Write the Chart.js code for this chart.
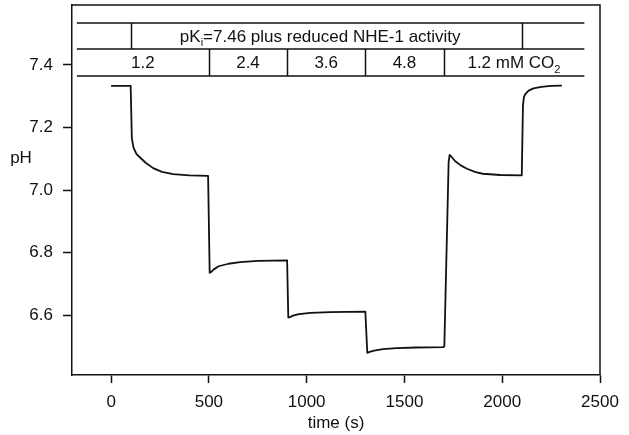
<!DOCTYPE html>
<html>
<head>
<meta charset="utf-8">
<script src="https://cdn.jsdelivr.net/npm/chart.js"></script>
<style>
  html, body { margin: 0; padding: 0; background: #fff; }
  canvas { display: block; }
</style>
</head>
<body>
<canvas id="chart-ph" width="629" height="435"></canvas>
<script>
// pH trace (time in s)
var time = [0, 100, 106, 115, 130, 148, 175, 215, 260, 317, 400, 496,
    500, 504, 512, 525, 550, 600, 660, 750, 900,
    906, 914, 930, 960, 1020, 1120, 1300,
    1310, 1322, 1345, 1390, 1460, 1560, 1698,
    1704, 1726, 1731, 1738, 1760, 1790, 1820, 1860, 1900, 1990, 2100,
    2106, 2111, 2118, 2135, 2160, 2200, 2250, 2305];
var ph = [7.333, 7.333, 7.165, 7.135, 7.115, 7.104, 7.088, 7.07, 7.058, 7.051, 7.047, 7.045,
    7.045, 6.735, 6.738, 6.746, 6.756, 6.764, 6.769, 6.773, 6.775,
    6.592, 6.593, 6.598, 6.603, 6.607, 6.609, 6.611,
    6.479, 6.482, 6.486, 6.491, 6.494, 6.496, 6.497,
    6.50, 7.09, 7.112, 7.108, 7.092, 7.078, 7.068, 7.058, 7.052, 7.048, 7.047,
    7.27, 7.297, 7.307, 7.318, 7.325, 7.330, 7.333, 7.334];

var xTicks = [0, 500, 1000, 1500, 2000, 2500];
var yTicks = [6.6, 6.8, 7.0, 7.2, 7.4];

// protocol table on top of the trace
var rowOneEdges = [100, 2100];
var rowTwoEdges = [500, 900, 1300, 1700];
var rowTwoLabels = ['1.2', '2.4', '3.6', '4.8', '1.2 mM CO'];
var tableStart = -175;
var tableEnd = 2420;

var ink = '#111';
var font = 'Liberation Sans, Arial, Helvetica, sans-serif';

var points = [];
for (var i = 0; i < time.length; i++) points.push({x: time[i], y: ph[i]});

function noPadding(scale) {
    scale.paddingTop = 0;
    scale.paddingBottom = 0;
    scale.paddingLeft = 0;
    scale.paddingRight = 0;
}

var tablePlugin = {
    id: 'tablePlugin',
    afterDraw: function (chart) {
        var ctx = chart.ctx;
        var xs = chart.scales.x;
        var a = chart.chartArea;
        ctx.save();
        ctx.strokeStyle = ink;
        ctx.fillStyle = ink;
        ctx.lineWidth = 1.5;

        // frame top and right
        ctx.beginPath();
        ctx.moveTo(a.left, a.top);
        ctx.lineTo(a.right, a.top);
        ctx.lineTo(a.right, a.bottom);
        ctx.stroke();

        var y1 = a.top + 18, y2 = a.top + 44, y3 = a.top + 71;
        var x0 = xs.getPixelForValue(tableStart);
        var x9 = xs.getPixelForValue(tableEnd);
        ctx.beginPath();
        [y1, y2, y3].forEach(function (y) {
            ctx.moveTo(x0, y);
            ctx.lineTo(x9, y);
        });
        rowOneEdges.forEach(function (t) {
            var px = Math.round(xs.getPixelForValue(t)) + 0.5;
            ctx.moveTo(px, y1);
            ctx.lineTo(px, y2);
        });
        rowTwoEdges.forEach(function (t) {
            var px = Math.round(xs.getPixelForValue(t)) + 0.5;
            ctx.moveTo(px, y2);
            ctx.lineTo(px, y3);
        });
        ctx.stroke();

        ctx.textBaseline = 'middle';
        ctx.textAlign = 'left';

        // row one: pK_i=7.46 plus reduced NHE-1 activity
        var big = '17px ' + font, small = '11px ' + font;
        var pA = 'pK', pB = 'i', pC = '=7.46 plus reduced NHE-1 activity';
        ctx.font = big;
        var wA = ctx.measureText(pA).width, wC = ctx.measureText(pC).width;
        ctx.font = small;
        var wB = ctx.measureText(pB).width;
        var cx = (xs.getPixelForValue(rowOneEdges[0]) + xs.getPixelForValue(rowOneEdges[1])) / 2 - 6;
        var sx = cx - (wA + wB + wC) / 2;
        var ty = (y1 + y2) / 2 + 1;
        ctx.font = big;
        ctx.fillText(pA, sx, ty);
        ctx.font = small;
        ctx.fillText(pB, sx + wA, ty + 6);
        ctx.font = big;
        ctx.fillText(pC, sx + wA + wB, ty);

        // row two: concentrations
        var edges = [tableStart].concat(rowTwoEdges).concat([tableEnd]);
        var ty2 = (y2 + y3) / 2 + 1;
        for (var k = 0; k < rowTwoLabels.length; k++) {
            var c = (xs.getPixelForValue(edges[k]) + xs.getPixelForValue(edges[k + 1])) / 2;
            ctx.font = big;
            var w = ctx.measureText(rowTwoLabels[k]).width;
            var sub = (k === rowTwoLabels.length - 1) ? '2' : '';
            ctx.font = small;
            var ws = sub ? ctx.measureText(sub).width : 0;
            var s = c - (w + ws) / 2;
            ctx.font = big;
            ctx.fillText(rowTwoLabels[k], s, ty2);
            if (sub) {
                ctx.font = small;
                ctx.fillText(sub, s + w, ty2 + 6);
            }
        }

        // y axis title, horizontal
        ctx.font = big;
        ctx.textAlign = 'center';
        ctx.fillText('pH', 21, 158);
        ctx.restore();
    }
};

var ctxPh = document.getElementById('chart-ph').getContext('2d');
var chartPh = new Chart(ctxPh, {
    type: 'scatter',
    data: {
        datasets: [{
            data: points,
            showLine: true,
            borderColor: ink,
            borderWidth: 1.8,
            borderJoinStyle: 'round',
            pointRadius: 0,
            tension: 0
        }]
    },
    options: {
        responsive: false,
        animation: false,
        devicePixelRatio: 1,
        layout: {padding: {top: 5, right: 29, left: 0, bottom: 0}},
        plugins: {legend: {display: false}, tooltip: {enabled: false}},
        scales: {
            x: {
                type: 'linear',
                min: -200,
                max: 2500,
                afterBuildTicks: function (scale) {
                    scale.ticks = xTicks.map(function (v) { return {value: v}; });
                },
                afterFit: function (scale) { scale.height = 60; noPadding(scale); },
                grid: {drawOnChartArea: false, tickLength: 8, color: ink, tickWidth: 1.5},
                border: {display: true, color: ink, width: 1.5},
                ticks: {color: ink, padding: 9, maxRotation: 0, font: {size: 17, family: font},
                    callback: function (v) { return String(v); }},
                title: {display: true, text: 'time (s)', color: ink, padding: {top: 0, bottom: 1},
                    font: {size: 17, family: font}}
            },
            y: {
                min: 6.408,
                max: 7.592,
                afterBuildTicks: function (scale) {
                    scale.ticks = yTicks.map(function (v) { return {value: v}; });
                },
                afterFit: function (scale) { scale.width = 72; noPadding(scale); },
                grid: {drawOnChartArea: false, tickLength: 9, color: ink, tickWidth: 1.5},
                border: {display: true, color: ink, width: 1.5},
                ticks: {color: ink, padding: 10, font: {size: 17, family: font},
                    callback: function (v) { return v.toFixed(1); }}
            }
        }
    },
    plugins: [tablePlugin]
});
</script>
</body>
</html>
